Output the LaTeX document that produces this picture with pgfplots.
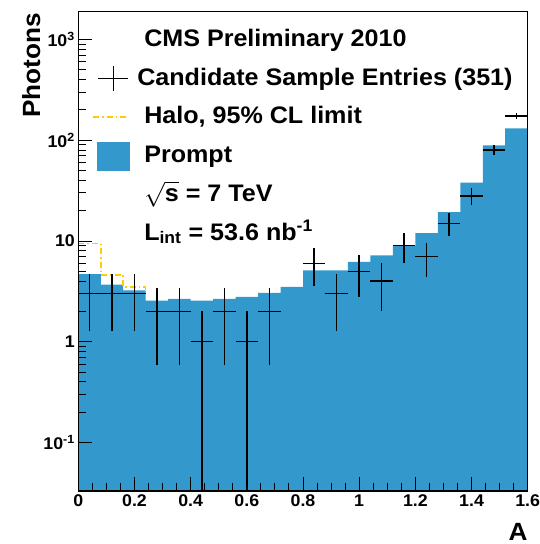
\documentclass[border=0pt]{standalone}
\usepackage{pgfplots}
\pgfplotsset{compat=1.18}
\usepackage{fontspec}
\setmainfont{Liberation Sans}[FakeStretch=1.05]
\definecolor{promptblue}{RGB}{51,153,204}
\definecolor{halo}{RGB}{255,204,0}
\begin{document}
\begin{tikzpicture}[x=1bp,y=1bp]
\path[use as bounding box] (0,0) rectangle (540,544);
\begin{axis}[
  at={(78.3bp,53bp)}, anchor=south west,
  scale only axis, width=449.4bp, height=479.3bp,
  xmin=0, xmax=1.6, ymode=log, ymin=0.0330, ymax=1889,
  log origin=infty,
  axis on top,
  xtick={0,0.2,0.4,0.6,0.8,1,1.2,1.4,1.6},
  xticklabels={0,0.2,0.4,0.6,0.8,1,1.2,1.4,1.6},
  minor x tick num=3,
  ytick={0.1,1,10,100,1000},
  yticklabels={10\textsuperscript{-1},1,10,10\textsuperscript{2},10\textsuperscript{3}},
  xtick pos=bottom, ytick pos=left,
  major tick length=14bp, minor tick length=8bp,
  every tick/.style={black, line width=1bp},
  axis line style={line width=1.2bp},
  ticklabel style={font=\bfseries\fontsize{17}{17}\selectfont},
  xlabel={A}, ylabel={Photons},
  label style={font=\bfseries\fontsize{25}{25}\selectfont},
  xlabel style={at={(rel axis cs:1,0)}, anchor=north east, yshift=-32bp, inner sep=0pt},
  ylabel style={at={(rel axis cs:-0.085,0.997)}, anchor=base east, inner sep=0pt},
  legend cell align=left,
  legend style={draw=none, fill=none, at={(rel axis cs:0.025,0.973)}, anchor=north west,
    font=\bfseries\fontsize{24}{28}\selectfont, row sep=11.4bp, column sep=14bp,
    nodes={inner sep=1bp, text height=19bp, text depth=6bp}},
]
% Prompt histogram (bin left edges)
\addplot[const plot, fill=promptblue, draw=none, forget plot] coordinates {
  (0.00,4.7) (0.08,3.7) (0.16,3.24) (0.24,2.56) (0.32,2.67) (0.40,2.56)
  (0.48,2.67) (0.56,2.79) (0.64,3.06) (0.72,3.5) (0.80,5.1) (0.88,5.1)
  (0.96,6.2) (1.04,7.2) (1.12,8.9) (1.20,12.0) (1.28,19.4) (1.36,38)
  (1.44,89) (1.52,131) (1.60,131)
} \closedcycle;
% Halo 95% CL limit
\addplot[const plot, halo, line width=1.5bp, dash pattern=on 6bp off 3bp on 1.5bp off 3bp, forget plot] coordinates {
  (0.00,9.4) (0.08,4.6) (0.16,3.5) (0.24,3.24)
};
% Candidate sample entries
\addplot[draw=none, mark=none, forget plot,
  error bars/.cd, x dir=both, x explicit, y dir=both, y explicit,
  error mark=none, error bar style={black, line width=1.5bp}]
  table[x=x, y=y, x error=ex, y error plus=ep, y error minus=em] {
x    y   ex   ep     em
0.04 3   0.04 1.732  1.732
0.12 3   0.04 1.732  1.732
0.20 3   0.04 1.732  1.732
0.28 2   0.04 1.414  1.414
0.36 2   0.04 1.414  1.414
0.44 1   0.04 1.0    0.99
0.52 2   0.04 1.414  1.414
0.60 1   0.04 1.0    0.99
0.68 2   0.04 1.414  1.414
0.84 6   0.04 2.449  2.449
0.92 3   0.04 1.732  1.732
1.00 5   0.04 2.236  2.236
1.08 4   0.04 2.0    2.0
1.16 9   0.04 3.0    3.0
1.24 7   0.04 2.646  2.646
1.32 15  0.04 3.873  3.873
1.40 28  0.04 5.292  5.292
1.48 80  0.04 8.944  8.944
1.56 175 0.04 13.23  13.23
};
\addlegendimage{empty legend}
\addlegendentry{CMS Preliminary 2010}
\addlegendimage{legend image code/.code={\draw[black,line width=1.5bp] (5bp,0bp)--(35bp,0bp); \draw[black,line width=1.5bp] (20bp,-12.5bp)--(20bp,12.5bp);}}
\addlegendentry{\hspace*{-7bp}Candidate Sample Entries (351)}
\addlegendimage{legend image code/.code={\draw[halo,line width=1.5bp,dash pattern=on 6bp off 3bp on 1.5bp off 3bp] (0bp,0bp)--(35bp,0bp);}}
\addlegendentry{Halo, 95\% CL limit}
\addlegendimage{legend image code/.code={\fill[promptblue] (4bp,-14bp) rectangle (35.6bp,14bp);}}
\addlegendentry{Prompt}
\addlegendimage{empty legend}
\addlegendentry{$\sqrt{\textbf{s}}$ = 7 TeV}
\addlegendimage{empty legend}
\addlegendentry{L\textsubscript{int} = 53.6 nb\textsuperscript{-1}}
\end{axis}
\end{tikzpicture}
\end{document}
